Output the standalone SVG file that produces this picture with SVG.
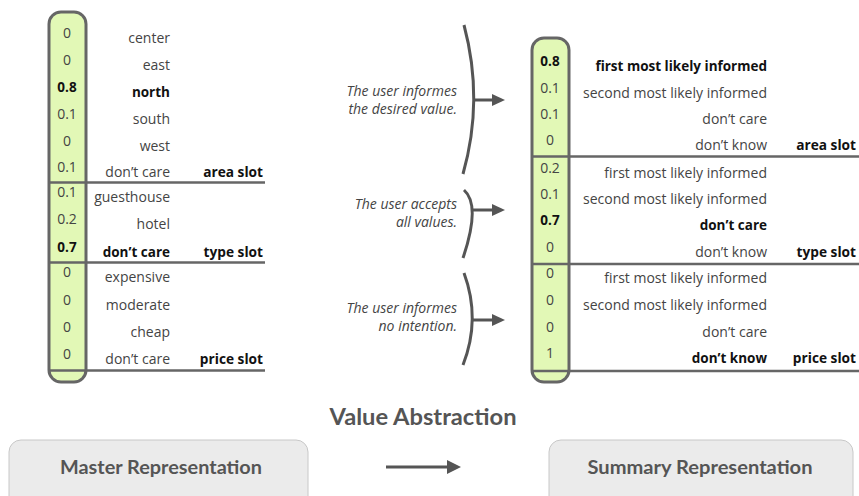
<svg xmlns="http://www.w3.org/2000/svg" width="859" height="496" viewBox="0 0 859 496">
<defs>
<style>
text{font-family:"Open Sans",Lato,"Liberation Sans",sans-serif;}
.v{font-size:14px;fill:#444;text-anchor:middle;}
.l{font-size:14px;fill:#444;text-anchor:end;}
.b{font-weight:bold;fill:#111;font-size:13.5px;}
.s{font-size:13.7px;font-weight:bold;fill:#111;text-anchor:end;}
.n{font-size:14px;font-style:italic;fill:#444;text-anchor:end;}
.col{fill:#e2f8b6;}
.colb{fill:none;stroke:#666;stroke-width:3;}
.sep{stroke:#666;stroke-width:2.5;fill:none;}
.br{stroke:#555;stroke-width:3;fill:none;}
.ar{stroke:#555;stroke-width:3;fill:none;}
.hd{fill:#555;}
.box{fill:#ebebeb;stroke:#c8c8c8;stroke-width:1;}
.bt{font-family:Lato,"Liberation Sans",sans-serif;font-size:19px;font-weight:bold;fill:#555;text-anchor:middle;}
</style>
</defs>
<rect width="859" height="496" fill="#ffffff"/>

<g id="master">
<rect class="col" x="49" y="12" width="37" height="370" rx="12"/>
<g id="master-area">
<text class="v" x="67" y="38">0</text><text class="l" x="170" y="43">center</text>
<text class="v" x="67" y="65">0</text><text class="l" x="170" y="70">east</text>
<text class="v b" x="67" y="92">0.8</text><text class="l b" x="170" y="97">north</text>
<text class="v" x="67" y="119">0.1</text><text class="l" x="170" y="124">south</text>
<text class="v" x="67" y="146">0</text><text class="l" x="170" y="151">west</text>
<text class="v" x="67" y="172">0.1</text><text class="l" x="170" y="177">don&#8217;t care</text>
<text class="s" x="263" y="177">area slot</text>
</g>
<g id="master-type">
<text class="v" x="67" y="197">0.1</text><text class="l" x="170" y="202">guesthouse</text>
<text class="v" x="67" y="224">0.2</text><text class="l" x="170" y="229">hotel</text>
<text class="v b" x="67" y="252">0.7</text><text class="l b" x="170" y="257">don&#8217;t care</text>
<text class="s" x="263" y="257">type slot</text>
</g>
<g id="master-price">
<text class="v" x="67" y="277">0</text><text class="l" x="170" y="282">expensive</text>
<text class="v" x="67" y="305">0</text><text class="l" x="170" y="310">moderate</text>
<text class="v" x="67" y="332">0</text><text class="l" x="170" y="337">cheap</text>
<text class="v" x="67" y="359">0</text><text class="l" x="170" y="364">don&#8217;t care</text>
<text class="s" x="263" y="364">price slot</text>
</g>
<line class="sep" x1="48" y1="182.5" x2="265" y2="182.5"/>
<line class="sep" x1="48" y1="262.5" x2="265" y2="262.5"/>
<line class="sep" x1="48" y1="370.5" x2="265" y2="370.5"/>
<rect class="colb" x="49" y="12" width="37" height="370" rx="12"/>
</g>

<g id="summary">
<rect class="col" x="532" y="38" width="37" height="344" rx="12"/>
<g id="summary-area">
<text class="v b" x="550" y="66">0.8</text><text class="l b" x="767" y="71">first most likely informed</text>
<text class="v" x="550" y="93">0.1</text><text class="l" x="767" y="98">second most likely informed</text>
<text class="v" x="550" y="119">0.1</text><text class="l" x="767" y="124">don&#8217;t care</text>
<text class="v" x="550" y="145">0</text><text class="l" x="767" y="150">don&#8217;t know</text>
<text class="s" x="856" y="150">area slot</text>
</g>
<g id="summary-type">
<text class="v" x="550" y="173">0.2</text><text class="l" x="767" y="178">first most likely informed</text>
<text class="v" x="550" y="199">0.1</text><text class="l" x="767" y="204">second most likely informed</text>
<text class="v b" x="550" y="225">0.7</text><text class="l b" x="767" y="230">don&#8217;t care</text>
<text class="v" x="550" y="252">0</text><text class="l" x="767" y="257">don&#8217;t know</text>
<text class="s" x="856" y="257">type slot</text>
</g>
<g id="summary-price">
<text class="v" x="550" y="278">0</text><text class="l" x="767" y="283">first most likely informed</text>
<text class="v" x="550" y="305">0</text><text class="l" x="767" y="310">second most likely informed</text>
<text class="v" x="550" y="332">0</text><text class="l" x="767" y="337">don&#8217;t care</text>
<text class="v" x="550" y="358">1</text><text class="l b" x="767" y="363">don&#8217;t know</text>
<text class="s" x="856" y="363">price slot</text>
</g>
<line class="sep" x1="531" y1="156.5" x2="859" y2="156.5"/>
<line class="sep" x1="531" y1="264" x2="859" y2="264"/>
<line class="sep" x1="531" y1="371" x2="859" y2="371"/>
<rect class="colb" x="532" y="38" width="37" height="344" rx="12"/>
</g>

<g id="rule-desired">
<text class="n" x="457" y="96">The user informes</text>
<text class="n" x="457" y="114">the desired value.</text>
</g>
<g id="rule-accepts">
<text class="n" x="457" y="209">The user accepts</text>
<text class="n" x="457" y="227">all values.</text>
</g>
<g id="rule-none">
<text class="n" x="457" y="313">The user informes</text>
<text class="n" x="457" y="331">no intention.</text>
</g>

<g id="connectors">
<path class="br" d="M464,25 Q484,100 463,174"/>
<line class="ar" x1="473" y1="100" x2="494" y2="100"/>
<polygon class="hd" points="492,94 505,100 492,106"/>
<path class="br" d="M464,190 Q481,205 463,258"/>
<line class="ar" x1="472" y1="210" x2="494" y2="210"/>
<polygon class="hd" points="492,204 505,210 492,216"/>
<path class="br" d="M464,273 Q481,319 463,365"/>
<line class="ar" x1="472" y1="320" x2="494" y2="320"/>
<polygon class="hd" points="492,314 505,320 492,326"/>
<line class="ar" x1="386" y1="467" x2="449" y2="467"/>
<polygon class="hd" points="447,460 461,467 447,474"/>
</g>

<g id="title">
<text class="bt" x="423" y="425" style="font-size:22px" textLength="187" lengthAdjust="spacingAndGlyphs">Value Abstraction</text>
</g>
<g id="master-box">
<rect class="box" x="9" y="440" width="299" height="70" rx="12"/>
<text class="bt" x="161" y="474" textLength="202" lengthAdjust="spacingAndGlyphs">Master Representation</text>
</g>
<g id="summary-box">
<rect class="box" x="549" y="440" width="304" height="70" rx="12"/>
<text class="bt" x="700" y="474" textLength="225" lengthAdjust="spacingAndGlyphs">Summary Representation</text>
</g>
</svg>
